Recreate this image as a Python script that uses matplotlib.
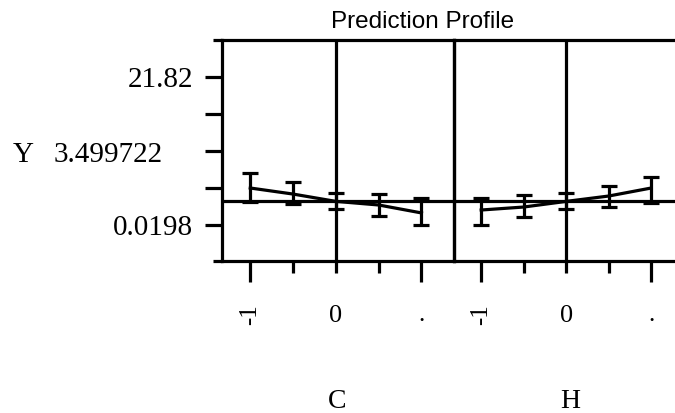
import matplotlib
matplotlib.use("Agg")
import matplotlib.pyplot as plt

# ---- data ----
levels = [-1, -0.5, 0, 0.5, 1]
c_pred = [5.47, 4.58, 3.50, 2.97, 1.80]
c_low = [3.40, 3.10, 2.40, 1.35, 0.02]
c_high = [7.68, 6.35, 4.80, 4.60, 4.00]
h_pred = [2.23, 2.67, 3.50, 4.29, 5.47]
h_low = [0.02, 1.20, 2.40, 2.67, 3.26]
h_high = [4.00, 4.44, 4.70, 5.76, 7.09]
y_current = 3.499722
y_ticks = [0.0198, 5.47, 10.92, 16.37, 21.82]
y_ticklabels = ["0.0198", "", "", "", "21.82"]
factors = ["C", "H"]
major_x = [-1, 1]
major_x_labels = ["-1", "."]
minor_x = [-0.5, 0, 0.5]
minor_x_labels = ["", "0", ""]

W, H = 675, 413
fig = plt.figure(figsize=(W / 100, H / 100), dpi=100)
serif = "Liberation Serif"
sans = "Liberation Sans"
LW = 2.3
ylim = (-5.28, 27.27)

top, bot = 40, 261
ax1 = fig.add_axes([222 / W, 1 - bot / H, (454 - 222) / W, (bot - top) / H])
ax2 = fig.add_axes([454 / W, 1 - bot / H, (675 - 454) / W, (bot - top) / H], sharey=ax1)
ax2.patch.set_visible(False)

panels = [
    (ax1, c_pred, c_low, c_high, (-1.33, 1.38)),
    (ax2, h_pred, h_low, h_high, (-1.32, 1.28)),
]
for ax, pred, low, high, xl in panels:
    yerr = [[p - l for p, l in zip(pred, low)], [h - p for p, h in zip(pred, high)]]
    ax.errorbar(levels, pred, yerr=yerr, color="black", lw=LW, elinewidth=LW,
                capsize=5.5, capthick=LW, clip_on=False)
    ax.axhline(y_current, color="black", lw=LW)
    ax.axvline(0, color="black", lw=LW)
    ax.set_xlim(*xl)
    ax.set_ylim(*ylim)
    for s in ax.spines.values():
        s.set_linewidth(LW)
    ax.set_xticks(major_x, major_x_labels)
    ax.set_xticks(minor_x, minor_x_labels, minor=True)
    ax.tick_params(axis="x", which="major", length=15, width=LW, pad=16,
                   labelsize=18, direction="out")
    ax.tick_params(axis="x", which="minor", length=8.6, width=LW, pad=23,
                   labelsize=19, direction="out")
    for lbl in ax.get_xticklabels() + ax.get_xticklabels(minor=True):
        lbl.set_fontfamily(serif)
        if lbl.get_text() == "-1":
            lbl.set_rotation(90)

ax2.spines["right"].set_visible(False)
ax2.tick_params(axis="y", which="both", left=False, labelleft=False)

ax1.set_yticks(y_ticks, y_ticklabels)
ax1.set_yticks([ylim[0], ylim[1]], minor=True)
ax1.tick_params(axis="y", which="major", length=12, width=LW, pad=8.6,
                labelsize=21, direction="out")
ax1.tick_params(axis="y", which="minor", length=6.5, width=LW, direction="out")
for lbl in ax1.get_yticklabels():
    lbl.set_fontfamily(serif)

fig.text(423 / W, 1 - 22 / H, "Prediction Profile", ha="center", va="center",
         family=sans, fontsize=17.5)
fig.text(13 / W, 1 - 155 / H, "Y", ha="left", va="center", family=serif, fontsize=21)
fig.text(54 / W, 1 - 155 / H, f"{y_current:.6f}", ha="left", va="center",
         family=serif, fontsize=21)
fig.text(337 / W, 1 - 401 / H, factors[0], ha="center", va="center", family=serif, fontsize=20)
fig.text(570 / W, 1 - 401 / H, factors[1], ha="center", va="center", family=serif, fontsize=20)

fig.savefig("out.png", dpi=100)
